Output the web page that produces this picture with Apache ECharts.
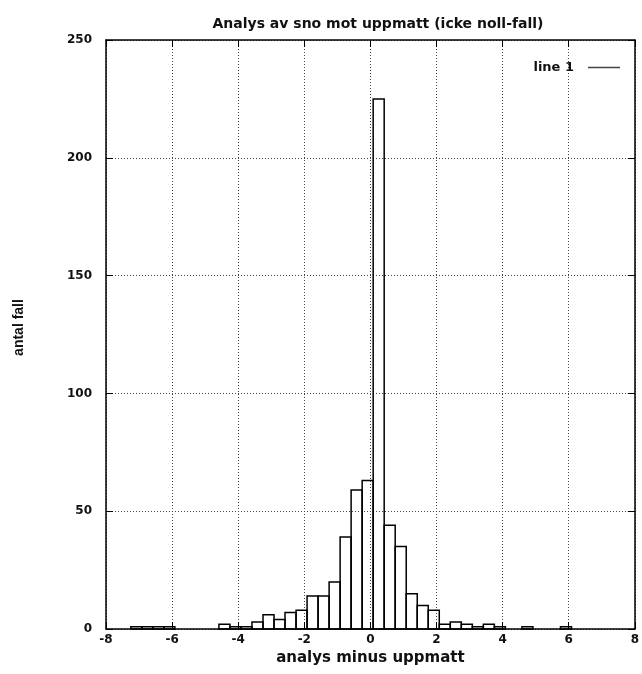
<!DOCTYPE html>
<html>
<head>
<meta charset="utf-8">
<script src="https://cdn.jsdelivr.net/npm/echarts@6/dist/echarts.min.js"></script>
<style>
html,body{margin:0;padding:0;background:#fff;}
#c{width:642px;height:674px;}
</style>
</head>
<body>
<div id="c"></div>
<script>
// Bin centres (analys minus uppmatt) and counts
const binCenters = [-7.083, -6.75, -6.417, -6.083, -4.417, -4.083, -3.75, -3.417, -3.083, -2.75, -2.417, -2.083, -1.75, -1.417, -1.083, -0.75, -0.417, -0.083, 0.25, 0.583, 0.917, 1.25, 1.583, 1.917, 2.25, 2.583, 2.917, 3.25, 3.583, 3.917, 4.75, 5.917];
const binCounts  = [1, 1, 1, 1, 2, 1, 1, 3, 6, 4, 7, 8, 14, 14, 20, 39, 59, 63, 225, 44, 35, 15, 10, 8, 2, 3, 2, 1, 2, 1, 1, 1];
const binWidth = 1/3;
const xTicks = [-8, -6, -4, -2, 0, 2, 4, 6, 8];
const yTicks = [0, 50, 100, 150, 200, 250];
const titleText = 'Analys av sno mot uppmatt (icke noll-fall)';
const xName = 'analys minus uppmatt';
const yName = 'antal fall';
const seriesName = 'line 1';

const data = binCenters.map((c, i) => [c, binCounts[i]]);
const font = '"DejaVu Sans", "Liberation Sans", Arial, sans-serif';
const fontL = '"Liberation Sans", Arial, sans-serif';

const chart = echarts.init(document.getElementById('c'), null, {renderer: 'canvas'});
const axisCommon = {
  type: 'value',
  axisLine: {show: true, onZero: false, lineStyle: {color: '#000', width: 1.5}},
  axisTick: {show: true, inside: true, length: 7, lineStyle: {color: '#000', width: 1}},
  splitLine: {show: false}
};
const gridLine = {show: true, lineStyle: {color: '#444', type: [1, 2], width: 1}};
chart.setOption({
  animation: false,
  backgroundColor: '#fff',
  title: {
    text: titleText, left: 373, top: 12, textAlign: 'center',
    textStyle: {fontFamily: font, fontSize: 14, fontWeight: 'bold', color: '#111'}
  },
  legend: {
    data: [{name: seriesName, icon: 'rect'}],
    right: 17, top: 56, align: 'right', itemWidth: 32, itemHeight: 1.5, itemGap: 10,
    textStyle: {fontFamily: font, fontSize: 13, fontWeight: 'bold', color: '#111', padding: [0, 9, 0, 0]}
  },
  grid: {left: 106, right: 7, top: 40, bottom: 45},
  xAxis: [
    Object.assign({}, axisCommon, {
      min: xTicks[0], max: xTicks[xTicks.length - 1], interval: 2, position: 'bottom',
      name: xName, nameLocation: 'middle', nameGap: 21,
      nameTextStyle: {fontFamily: font, fontSize: 15, fontWeight: 'bold', color: '#111'},
      axisLabel: {fontFamily: font, fontSize: 12, fontWeight: 'bold', color: '#111', margin: 5},
      splitLine: gridLine
    }),
    Object.assign({}, axisCommon, {
      min: xTicks[0], max: xTicks[xTicks.length - 1], interval: 2, position: 'top',
      axisLabel: {show: false}
    })
  ],
  yAxis: [
    Object.assign({}, axisCommon, {
      min: yTicks[0], max: yTicks[yTicks.length - 1], interval: 50, position: 'left',
      name: yName, nameLocation: 'middle', nameGap: 80, nameRotate: 90,
      nameTextStyle: {fontFamily: fontL, fontSize: 14, fontWeight: 'bold', color: '#111', padding: [0, 0, 0, 14]},
      axisLabel: {fontFamily: font, fontSize: 12, fontWeight: 'bold', color: '#111', margin: 14},
      splitLine: gridLine
    }),
    Object.assign({}, axisCommon, {
      min: yTicks[0], max: yTicks[yTicks.length - 1], interval: 50, position: 'right',
      axisLabel: {show: false}
    })
  ],
  series: [{
    name: seriesName,
    type: 'custom',
    xAxisIndex: 0, yAxisIndex: 0,
    data: data,
    itemStyle: {color: '#444'},
    renderItem: function (params, api) {
      const c = api.value(0), v = api.value(1);
      const p0 = api.coord([c - binWidth / 2, v]);
      const p1 = api.coord([c + binWidth / 2, 0]);
      return {
        type: 'rect',
        shape: {x: p0[0], y: p0[1], width: p1[0] - p0[0], height: p1[1] - p0[1]},
        style: {fill: 'none', stroke: '#000', lineWidth: 1.5}
      };
    }
  }]
});
</script>
</body>
</html>
